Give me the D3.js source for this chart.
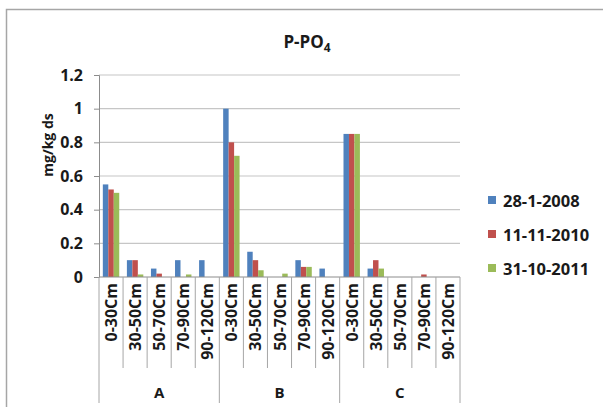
<!DOCTYPE html>
<html>
<head>
<meta charset="utf-8">
<script src="https://cdn.jsdelivr.net/npm/d3@7"></script>
<style>
  body { margin: 0; background: #fff; }
  text { font-family: "Open Sans", sans-serif; font-weight: bold; fill: #1a1a1a; }
</style>
</head>
<body>
<div id="chart"></div>
<script>
// data
var groups = ["A", "B", "C"];
var depths = ["0-30Cm", "30-50Cm", "50-70Cm", "70-90Cm", "90-120Cm"];
var seriesNames = ["28-1-2008", "11-11-2010", "31-10-2011"];
var seriesColors = ["#4f81bd", "#c0504d", "#9bbb59"];
var s2008 = [0.55, 0.10, 0.05, 0.10, 0.10, 1.00, 0.15, 0, 0.10, 0.05, 0.85, 0.05, 0, 0, 0];
var s2010 = [0.52, 0.10, 0.02, 0, 0, 0.80, 0.10, 0, 0.06, 0, 0.85, 0.10, 0, 0.015, 0];
var s2011 = [0.50, 0.015, 0, 0.015, 0, 0.72, 0.04, 0.02, 0.06, 0, 0.85, 0.05, 0, 0, 0];
var yTicks = [0, 0.2, 0.4, 0.6, 0.8, 1, 1.2];

var width = 603, height = 407;
var plot = { left: 99, right: 460, top: 75, bottom: 277 };

var svg = d3.select("#chart").append("svg")
    .attr("width", width)
    .attr("height", height);

// outer frame (runs off the right and bottom edges)
svg.append("rect")
    .attr("x", 6.5).attr("y", 9.5)
    .attr("width", 700).attr("height", 500)
    .attr("fill", "none")
    .attr("stroke", "#a6a6a6")
    .attr("stroke-width", 1.5);

// one slot per group/depth pair
var cats = [];
groups.forEach(function (g) {
  depths.forEach(function (d) { cats.push({ group: g, depth: d, key: g + "|" + d }); });
});
var seriesVals = [s2008, s2010, s2011];

var x = d3.scaleBand().domain(cats.map(c => c.key)).range([plot.left, plot.right]).padding(0);
var xs = d3.scaleBand().domain(seriesNames).range([0, x.bandwidth()]).paddingInner(0).paddingOuter(0.7);
var y = d3.scaleLinear().domain([0, 1.2]).range([plot.bottom, plot.top]);

// gridlines
svg.append("g").selectAll("line")
  .data(yTicks.filter(t => t > 0))
  .enter().append("line")
    .attr("x1", plot.left).attr("x2", plot.right)
    .attr("y1", d => y(d)).attr("y2", d => y(d))
    .attr("stroke", "#c6c6c6")
    .attr("stroke-width", 1.2);

// y axis
var yAxis = svg.append("g")
    .attr("transform", "translate(" + plot.left + ",0)")
    .call(d3.axisLeft(y).tickValues(yTicks).tickSize(5).tickPadding(11).tickFormat(d3.format("~g")));
yAxis.select(".domain").attr("stroke", "#8c8c8c");
yAxis.selectAll(".tick line").attr("stroke", "#8c8c8c");
yAxis.selectAll("text")
    .attr("font-size", 16)
    .attr("font-family", "Open Sans, sans-serif")
    .attr("font-weight", "bold")
    .attr("fill", "#1a1a1a");

// bars
var barData = [];
cats.forEach(function (c, i) {
  seriesNames.forEach(function (s, j) {
    barData.push({ key: c.key, series: s, value: seriesVals[j][i], color: seriesColors[j] });
  });
});
svg.append("g").selectAll("rect")
  .data(barData)
  .enter().append("rect")
    .attr("x", d => x(d.key) + xs(d.series))
    .attr("y", d => y(d.value))
    .attr("width", xs.bandwidth())
    .attr("height", d => y(0) - y(d.value))
    .attr("fill", d => d.color);

// x axis baseline
svg.append("line")
    .attr("x1", plot.left).attr("x2", plot.right)
    .attr("y1", plot.bottom).attr("y2", plot.bottom)
    .attr("stroke", "#8c8c8c");

// category separators: short inside a group, long at group edges
var bounds = d3.range(cats.length + 1);
svg.append("g").selectAll("line")
  .data(bounds)
  .enter().append("line")
    .attr("x1", i => plot.left + i * x.step())
    .attr("x2", i => plot.left + i * x.step())
    .attr("y1", plot.bottom)
    .attr("y2", i => (i % depths.length === 0) ? 403 : 368)
    .attr("stroke", "#a6a6a6");

// depth labels, rotated
svg.append("g").selectAll("text")
  .data(cats)
  .enter().append("text")
    .attr("transform", d => "translate(" + (x(d.key) + x.bandwidth() / 2) + "," + (plot.bottom + 6) + ") rotate(-90)")
    .attr("text-anchor", "end")
    .attr("dominant-baseline", "central")
    .attr("font-size", 16)
    .text(d => d.depth);

// group labels
svg.append("g").selectAll("text")
  .data(groups)
  .enter().append("text")
    .attr("x", (g, i) => plot.left + (i * depths.length + depths.length / 2) * x.step())
    .attr("y", 398)
    .attr("text-anchor", "middle")
    .attr("font-size", 15)
    .text(g => g);

// y axis title
svg.append("text")
    .attr("transform", "translate(47,145) rotate(-90)")
    .attr("text-anchor", "middle")
    .attr("dominant-baseline", "central")
    .attr("font-size", 14)
    .text("mg/kg ds");

// chart title with subscript
var title = svg.append("text")
    .attr("x", 307).attr("y", 48)
    .attr("text-anchor", "middle")
    .attr("font-size", 17);
title.append("tspan").text("P-PO");
title.append("tspan").attr("font-size", 12).attr("dy", 4).text("4");

// legend
var legend = svg.append("g").selectAll("g")
  .data(seriesNames)
  .enter().append("g")
    .attr("transform", (d, i) => "translate(488," + (200 + i * 34) + ")");
legend.append("rect")
    .attr("x", 0).attr("y", -4)
    .attr("width", 8).attr("height", 8)
    .attr("fill", (d, i) => seriesColors[i]);
legend.append("text")
    .attr("x", 15).attr("y", 0)
    .attr("dominant-baseline", "central")
    .attr("font-size", 16.5)
    .text(d => d);
</script>
</body>
</html>
